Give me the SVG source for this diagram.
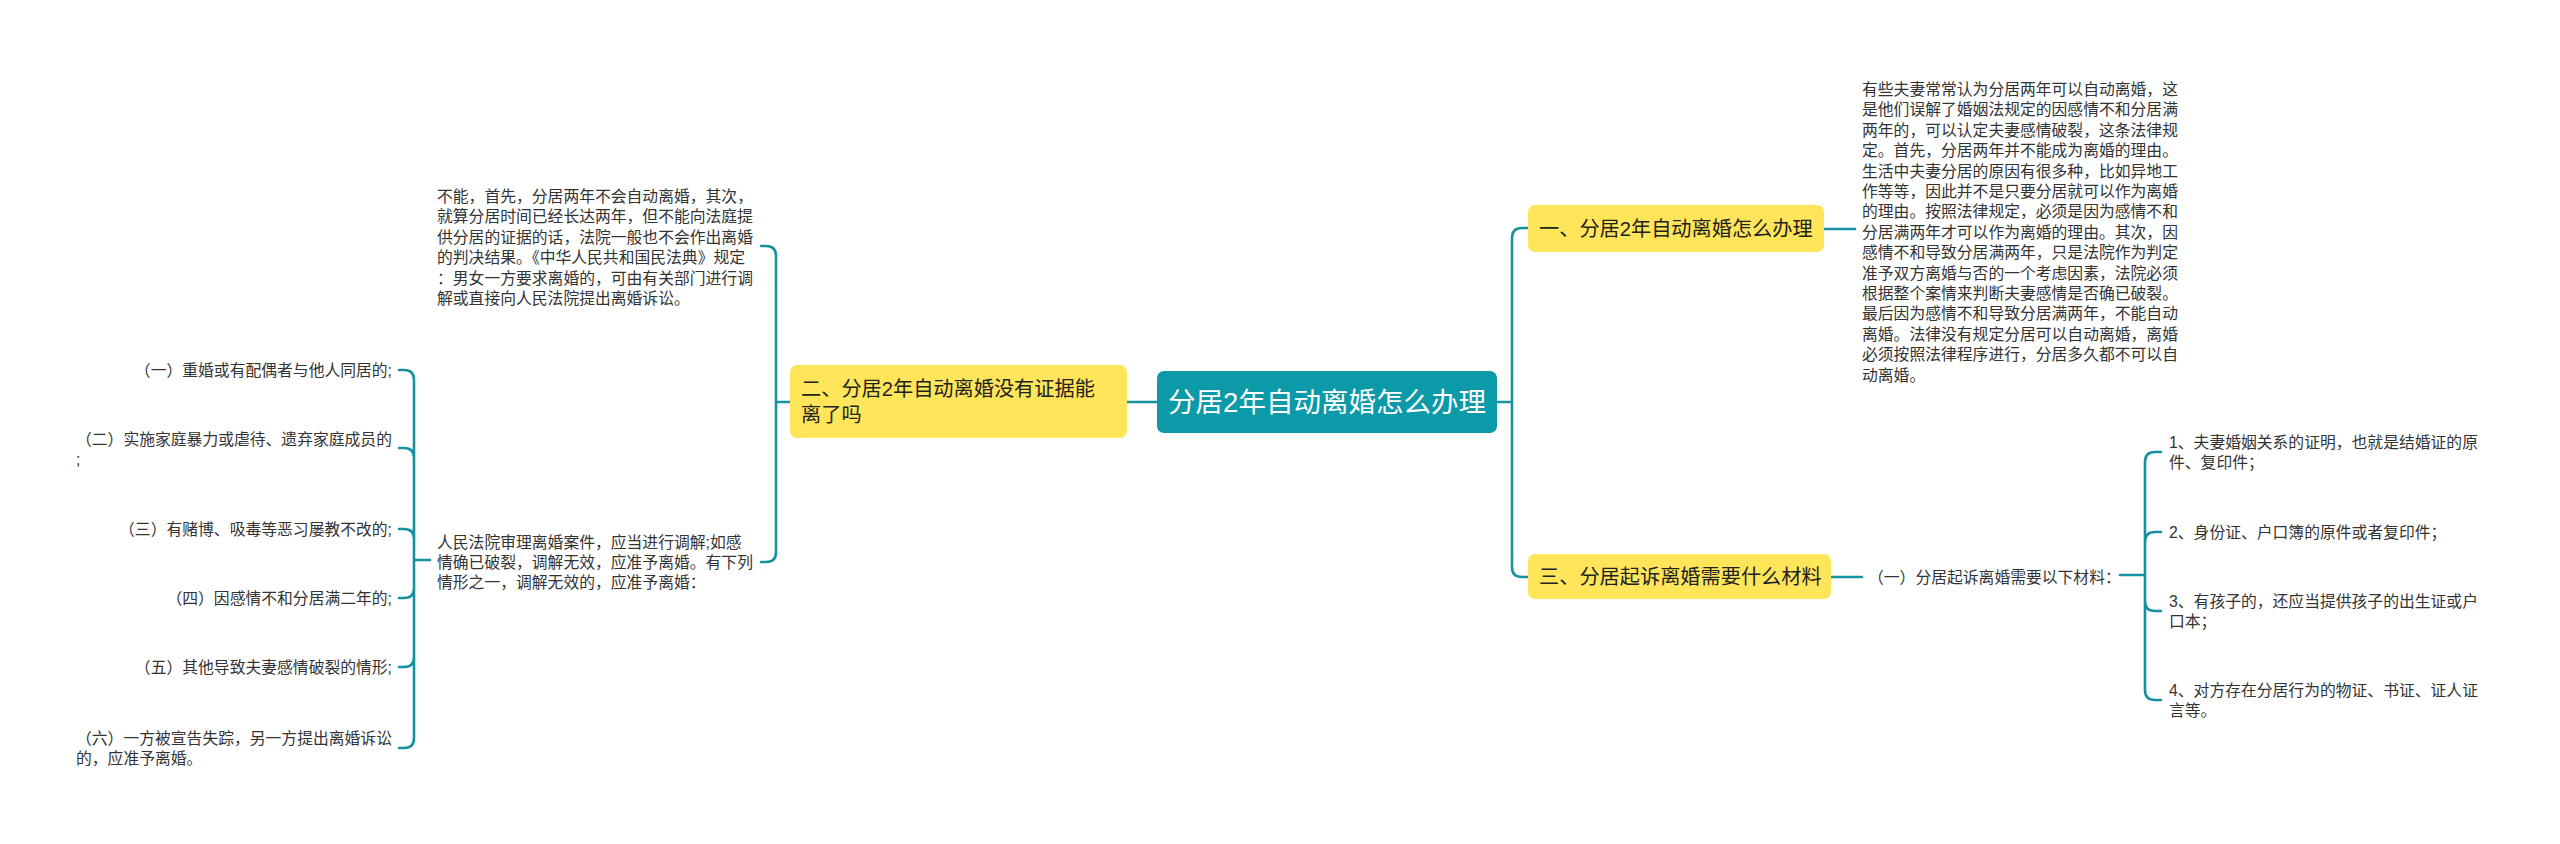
<svg xmlns="http://www.w3.org/2000/svg" width="2560" height="844" viewBox="0 0 2560 844">
<style>
.c{fill:none;stroke:#17919f;stroke-width:2.6;stroke-linecap:round}
.t{font-family:"Liberation Sans","Noto Sans CJK SC",sans-serif;font-size:15.8px;fill:#333;dominant-baseline:central}
.n{font-family:"Liberation Sans","Noto Sans CJK SC",sans-serif;font-size:20.2px;fill:#222;dominant-baseline:central}
.y{fill:#ffe55a}
.e{text-anchor:end}
</style>
<rect width="2560" height="844" fill="#fff"/>
<g id="connectors">
<path class="c" d="M1157,402 H1127"/>
<path class="c" d="M1497,402 H1512 M1512,402 V238 Q1512,228 1522,228 H1528 M1512,402 V567 Q1512,577 1522,577 H1528"/>
<path class="c" d="M1824,229 H1855"/>
<path class="c" d="M1831,577 H1862"/>
<path class="c" d="M2120,575 H2145 M2145,575 V462 Q2145,452 2155,452 H2161 M2145,575 V542 Q2145,532 2155,532 H2161 M2145,575 V601 Q2145,611 2155,611 H2161 M2145,575 V690 Q2145,700 2155,700 H2161"/>
<path class="c" d="M790,402 H776 M776,402 V256 Q776,246 766,246 H761 M776,402 V552 Q776,562 766,562 H761"/>
<path class="c" d="M430,560 H414 M414,560 V380 Q414,370 404,370 H399 M414,560 V458 Q414,448 404,448 H399 M414,560 V539 Q414,529 404,529 H399 M414,560 V588 Q414,598 404,598 H399 M414,560 V657 Q414,667 404,667 H399 M414,560 V738 Q414,748 404,748 H399"/>
</g>
<g id="center">
<rect x="1157" y="371" width="340" height="62" rx="7" fill="#0c99a8"/>
<text x="1327" y="402" text-anchor="middle" font-family="Liberation Sans,Noto Sans CJK SC,sans-serif" font-size="27.5" fill="#fff" dominant-baseline="central">分居2年自动离婚怎么办理</text>
</g>
<g id="node1">
<rect class="y" x="1528" y="205" width="296" height="47" rx="7"/>
<text class="n" x="1539" y="229">一、分居2年自动离婚怎么办理</text>
</g>
<g id="node1-text">
<text class="t" x="1862"><tspan x="1862" y="89">有些夫妻常常认为分居两年可以自动离婚，这</tspan><tspan x="1862" y="109.4">是他们误解了婚姻法规定的因感情不和分居满</tspan><tspan x="1862" y="129.8">两年的，可以认定夫妻感情破裂，这条法律规</tspan><tspan x="1862" y="150.2">定。首先，分居两年并不能成为离婚的理由。</tspan><tspan x="1862" y="170.6">生活中夫妻分居的原因有很多种，比如异地工</tspan><tspan x="1862" y="191">作等等，因此并不是只要分居就可以作为离婚</tspan><tspan x="1862" y="211.4">的理由。按照法律规定，必须是因为感情不和</tspan><tspan x="1862" y="231.8">分居满两年才可以作为离婚的理由。其次，因</tspan><tspan x="1862" y="252.2">感情不和导致分居满两年，只是法院作为判定</tspan><tspan x="1862" y="272.6">准予双方离婚与否的一个考虑因素，法院必须</tspan><tspan x="1862" y="293">根据整个案情来判断夫妻感情是否确已破裂。</tspan><tspan x="1862" y="313.4">最后因为感情不和导致分居满两年，不能自动</tspan><tspan x="1862" y="333.8">离婚。法律没有规定分居可以自动离婚，离婚</tspan><tspan x="1862" y="354.2">必须按照法律程序进行，分居多久都不可以自</tspan><tspan x="1862" y="374.6">动离婚。</tspan></text>
</g>
<g id="node3">
<rect class="y" x="1528" y="554" width="303" height="45" rx="7"/>
<text class="n" x="1539" y="577">三、分居起诉离婚需要什么材料</text>
</g>
<g id="node3-1">
<text class="t" x="1868" y="577">（一）分居起诉离婚需要以下材料：</text>
</g>
<g id="node3-1-1">
<text class="t"><tspan x="2169" y="442">1、夫妻婚姻关系的证明，也就是结婚证的原</tspan><tspan x="2169" y="462.4">件、复印件；</tspan></text>
</g>
<g id="node3-1-2">
<text class="t" x="2169" y="532">2、身份证、户口簿的原件或者复印件；</text>
</g>
<g id="node3-1-3">
<text class="t"><tspan x="2169" y="601">3、有孩子的，还应当提供孩子的出生证或户</tspan><tspan x="2169" y="621.4">口本；</tspan></text>
</g>
<g id="node3-1-4">
<text class="t"><tspan x="2169" y="690">4、对方存在分居行为的物证、书证、证人证</tspan><tspan x="2169" y="710.4">言等。</tspan></text>
</g>
<g id="node2">
<rect class="y" x="790" y="365" width="337" height="73" rx="7"/>
<text class="n"><tspan x="801" y="389">二、分居2年自动离婚没有证据能</tspan><tspan x="801" y="415">离了吗</tspan></text>
</g>
<g id="node2-1">
<text class="t"><tspan x="437" y="196">不能，首先，分居两年不会自动离婚，其次，</tspan><tspan x="437" y="216.4">就算分居时间已经长达两年，但不能向法庭提</tspan><tspan x="437" y="236.8">供分居的证据的话，法院一般也不会作出离婚</tspan><tspan x="437" y="257.2">的判决结果。《中华人民共和国民法典》规定</tspan><tspan x="437" y="277.6">：男女一方要求离婚的，可由有关部门进行调</tspan><tspan x="437" y="298">解或直接向人民法院提出离婚诉讼。</tspan></text>
</g>
<g id="node2-2">
<text class="t"><tspan x="437" y="541.6">人民法院审理离婚案件，应当进行调解;如感</tspan><tspan x="437" y="562">情确已破裂，调解无效，应准予离婚。有下列</tspan><tspan x="437" y="582.4">情形之一，调解无效的，应准予离婚：</tspan></text>
</g>
<g id="item1"><text class="t e" x="392" y="370">（一）重婚或有配偶者与他人同居的;</text></g>
<g id="item2"><text class="t"><tspan x="76" y="438.5">（二）实施家庭暴力或虐待、遗弃家庭成员的</tspan><tspan x="76" y="458.9">;</tspan></text></g>
<g id="item3"><text class="t e" x="392" y="529">（三）有赌博、吸毒等恶习屡教不改的;</text></g>
<g id="item4"><text class="t e" x="392" y="598">（四）因感情不和分居满二年的;</text></g>
<g id="item5"><text class="t e" x="392" y="667">（五）其他导致夫妻感情破裂的情形;</text></g>
<g id="item6"><text class="t"><tspan x="76" y="738">（六）一方被宣告失踪，另一方提出离婚诉讼</tspan><tspan x="76" y="758.4">的，应准予离婚。</tspan></text></g>
</svg>
